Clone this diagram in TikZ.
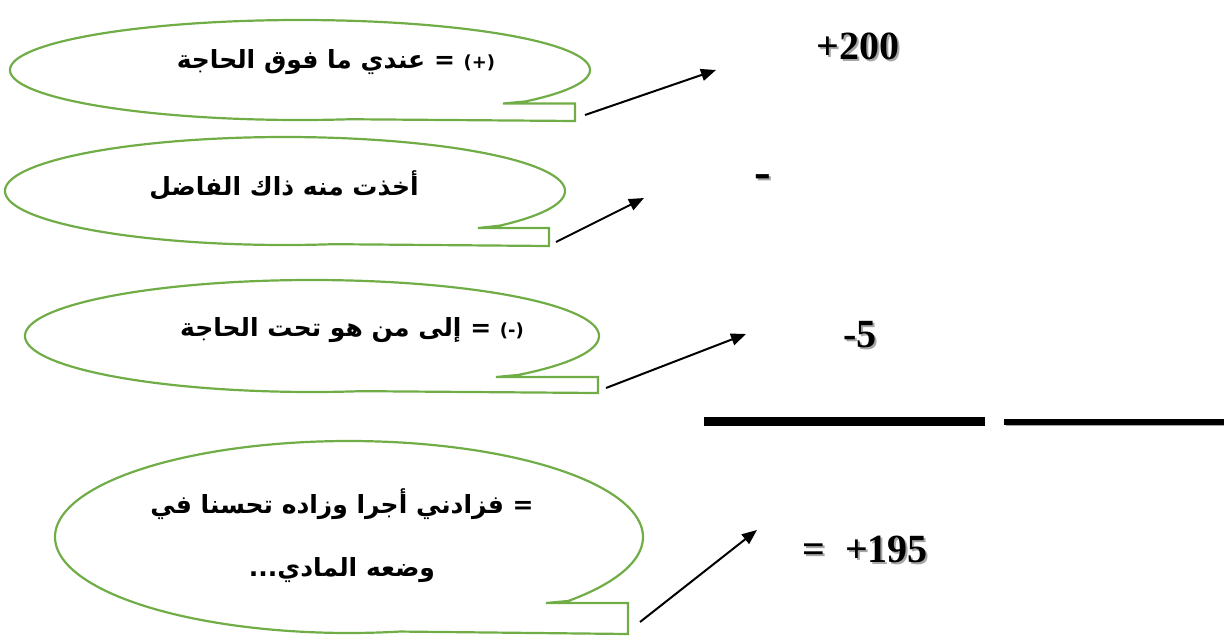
\documentclass[tikz,border=0pt]{standalone}
\usepackage{fontspec}
\setmainfont{Liberation Serif}
\newfontfamily\arabicfont[Script=Arabic]{DejaVu Sans}
\TeXXeTstate=1
\usetikzlibrary{arrows.meta}
\definecolor{bubgreen}{HTML}{70AD47}
\definecolor{shade}{HTML}{A6A6A6}
\tikzset{
  bubble/.style={draw=bubgreen, line width=2.2pt, line join=miter},
  arabic/.style={font=\arabicfont\bfseries\fontsize{25}{63}\selectfont, align=center, inner sep=0pt},
  num/.style={font=\bfseries\fontsize{40}{40}\selectfont, inner sep=0pt, anchor=base},
  numshadow/.style={num, text=shade},
  pointer/.style={black, line width=2pt, -{Triangle[length=15pt,width=12pt]}},
  rule/.style={black, line width=#1},
}
\begin{document}
\begin{tikzpicture}[x=1pt, y=-1pt]
\useasboundingbox (0,0) rectangle (1224,637);
% bubbles
\draw[bubble] plot[domain=80:399, samples=160, variable=\t] ({300+290*cos(\t)},{70+50*sin(\t)})
  -- (503,103.5) -- (575,103.5) -- (575,121) -- cycle;
\draw[bubble] plot[domain=80:400, samples=160, variable=\t] ({285+280*cos(\t)},{191+54*sin(\t)})
  -- (478,228) -- (549,228) -- (549,246) -- cycle;
\draw[bubble] plot[domain=80:404, samples=160, variable=\t] ({312+287*cos(\t)},{336+56*sin(\t)})
  -- (496,377) -- (598,377) -- (598,393) -- cycle;
\draw[bubble] plot[domain=80:401.8, samples=200, variable=\t] ({349+294*cos(\t)},{537+96*sin(\t)})
  -- (546,603) -- (628,603) -- (628,634) -- cycle;
% bubble texts
\node[arabic] (t1) at (336,62) {\beginR\beginL{\fontsize{18}{20}\selectfont(+)}\endL{} = عندي ما فوق الحاجة\endR};
\node[arabic] (t2) at (284,185) {\beginR أخذت منه ذاك الفاضل\endR};
\node[arabic] (t3) at (352,330) {\beginR\beginL{\fontsize{18}{20}\selectfont(-)}\endL{} = إلى من هو تحت الحاجة\endR};
\node[arabic] (t4) at (342,536) {\beginR = فزادني أجرا وزاده تحسنا في\endR\\\beginR وضعه المادي...\endR};
% numbers with shadow
\node[numshadow] (s200) at (860,61) {+200};
\node[num] (n200) at (858,59) {+200};
\node[numshadow, font=\bfseries\fontsize{50}{50}\selectfont] (sminus) at (765,190.5) {-};
\node[num, font=\bfseries\fontsize{50}{50}\selectfont] (nminus) at (763,188.5) {-};
\node[numshadow] (s5) at (862,349) {-5};
\node[num] (n5) at (860,347) {-5};
\node[numshadow] (s195) at (867,564) {=\ \ +195};
\node[num] (n195) at (865,562) {=\ \ +195};
% rules
\coordinate (r1a) at (704,421); \coordinate (r1b) at (985,421);
\coordinate (r2a) at (1004,422); \coordinate (r2b) at (1224,422);
\draw[draw=shade, line width=2pt] ([shift={(2,3)}]r2a) -- ([shift={(2,3)}]r2b);
\draw[rule=9pt] (r1a) -- (r1b);
\draw[rule=6pt] (r2a) -- (r2b);
% arrows
\coordinate (a1s) at (585,115); \coordinate (a1e) at (716,70);
\coordinate (a2s) at (556,242); \coordinate (a2e) at (644,198);
\coordinate (a3s) at (606,388); \coordinate (a3e) at (746,334);
\coordinate (a4s) at (640,622); \coordinate (a4e) at (757,530);
\draw[pointer] (a1s) -- (a1e);
\draw[pointer] (a2s) -- (a2e);
\draw[pointer] (a3s) -- (a3e);
\draw[pointer] (a4s) -- (a4e);
\end{tikzpicture}
\end{document}
